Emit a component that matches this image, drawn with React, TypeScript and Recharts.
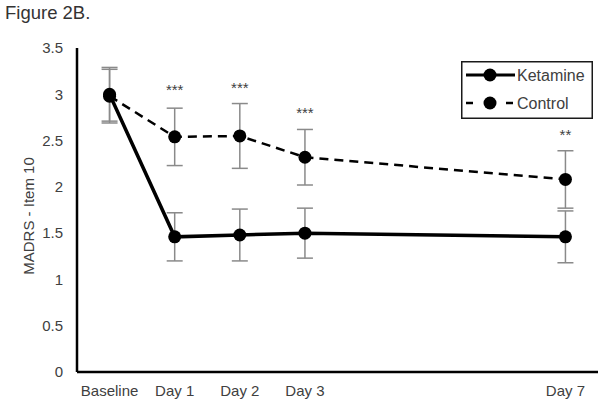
import { LineChart, Line, XAxis, YAxis, ErrorBar, LabelList, Legend } from 'recharts';

// time points (days after infusion) and their axis labels
const dayPositions = [0, 1, 2, 3, 7];
const dayLabels = ['Baseline', 'Day 1', 'Day 2', 'Day 3', 'Day 7'];

const ketamine = [3.0, 1.46, 1.48, 1.5, 1.46];
const ketamineErr = [0.29, 0.26, 0.28, 0.27, 0.28];
const control = [2.98, 2.54, 2.55, 2.32, 2.08];
const controlErr = [0.29, 0.31, 0.35, 0.3, 0.31];

// significance markers and the height they sit at
const sigLabels = ['', '***', '***', '***', '**'];
const sigHeight = [null, 3.08, 3.11, 2.84, 2.6];

const yTicks = [0, 0.5, 1, 1.5, 2, 2.5, 3, 3.5];

const legendOrder = ['Ketamine', 'Control'];

const data = dayPositions.map((d, i) => ({
    day: d,
    ketamine: ketamine[i],
    ketamineErr: ketamineErr[i],
    control: control[i],
    controlErr: controlErr[i],
    sig: sigHeight[i],
    sigLabel: sigLabels[i],
}));

const FONT = '"Liberation Sans", Arial, sans-serif';
const TEXT = '#404040';

const renderStar = (props: any) => {
    const { x, y, value } = props;
    if (!value || x == null || y == null) return null;
    return (
        <text x={x} y={y + 8.5} textAnchor="middle" fontSize={15} fontFamily={FONT} fill={TEXT}>
            {value}
        </text>
    );
};

const renderLegend = (props: any) => {
    const items = (props.payload || [])
        .filter((p: any) => p.type !== 'none')
        .sort((a: any, b: any) => legendOrder.indexOf(a.value) - legendOrder.indexOf(b.value));
    return (
        <svg width={132} height={58} style={{ display: 'block' }}>
            <rect x={0.75} y={0.75} width={130.5} height={56.5} fill="#fff" stroke="#1a1a1a" strokeWidth={1.5} />
            {items.map((item: any, i: number) => {
                const cy = 14 + i * 28;
                const dashed = !!item.payload?.strokeDasharray;
                return (
                    <g key={i}>
                        {dashed ? (
                            <>
                                <line x1={5} x2={12} y1={cy} y2={cy} stroke="#000" strokeWidth={2.5} />
                                <line x1={45} x2={52} y1={cy} y2={cy} stroke="#000" strokeWidth={2.5} />
                            </>
                        ) : (
                            <line x1={5} x2={54} y1={cy} y2={cy} stroke="#000" strokeWidth={3} />
                        )}
                        <circle cx={29} cy={cy} r={6.5} fill="#000" />
                        <text x={56} y={cy} dy="0.355em" fontSize={16} fontFamily={FONT} fill={TEXT}>
                            {item.value}
                        </text>
                    </g>
                );
            })}
        </svg>
    );
};

const YTitle = (props: any) => {
    const vb = props.viewBox || { y: 48, height: 324 };
    const cx = 29;
    const cy = vb.y + vb.height / 2 + 6;
    return (
        <text
            x={cx}
            y={cy}
            transform={`rotate(-90 ${cx} ${cy})`}
            textAnchor="middle"
            dy="0.355em"
            fontSize={15}
            fontFamily={FONT}
            fill={TEXT}
        >
            MADRS - Item 10
        </text>
    );
};

export default function App() {
    return (
        <div style={{ position: 'absolute', left: 0, top: 0, width: 603, height: 407, background: '#fff' }}>
            <div
                style={{
                    position: 'absolute',
                    left: 5,
                    top: 2,
                    fontFamily: FONT,
                    fontSize: 18.5,
                    color: '#333',
                }}
            >
                Figure 2B.
            </div>
            <LineChart
                width={603}
                height={407}
                data={data}
                margin={{ top: 48, right: 5, bottom: 10, left: 20 }}
            >
                <XAxis
                    dataKey="day"
                    type="number"
                    domain={[-0.5, 7.5]}
                    ticks={dayPositions}
                    tickFormatter={(v) => dayLabels[dayPositions.indexOf(v)] ?? ''}
                    axisLine={{ stroke: '#000', strokeWidth: 2.5 }}
                    tickLine={false}
                    tickSize={6}
                    tickMargin={7}
                    height={25}
                    tick={{ fill: TEXT, fontSize: 15, fontFamily: FONT }}
                    allowDataOverflow
                />
                <YAxis
                    type="number"
                    domain={[0, 3.5]}
                    ticks={yTicks}
                    width={57}
                    axisLine={{ stroke: '#000', strokeWidth: 2.5 }}
                    tickLine={false}
                    tickSize={6}
                    tickMargin={8}
                    tick={{ fill: TEXT, fontSize: 15, fontFamily: FONT }}
                    label={<YTitle />}
                />
                <Legend
                    layout="horizontal"
                    align="center"
                    verticalAlign="middle"
                    wrapperStyle={{ left: 461, top: 61, width: 132, height: 58 }}
                    content={renderLegend}
                />
                <Line
                    name="Control"
                    dataKey="control"
                    stroke="#000"
                    strokeWidth={2.5}
                    strokeDasharray="9 6"
                    dot={{ r: 6.5, fill: '#000', stroke: 'none' }}
                    activeDot={false}
                    isAnimationActive={false}
                >
                    <ErrorBar dataKey="controlErr" direction="y" width={8} stroke="#8a8a8a" strokeWidth={1.5} />
                </Line>
                <Line
                    name="Ketamine"
                    dataKey="ketamine"
                    stroke="#000"
                    strokeWidth={3.5}
                    dot={{ r: 6.5, fill: '#000', stroke: 'none' }}
                    activeDot={false}
                    isAnimationActive={false}
                >
                    <ErrorBar dataKey="ketamineErr" direction="y" width={8} stroke="#8a8a8a" strokeWidth={1.5} />
                </Line>
                <Line
                    dataKey="sig"
                    stroke="none"
                    dot={false}
                    activeDot={false}
                    legendType="none"
                    isAnimationActive={false}
                >
                    <LabelList dataKey="sigLabel" content={renderStar} />
                </Line>
            </LineChart>
        </div>
    );
}
